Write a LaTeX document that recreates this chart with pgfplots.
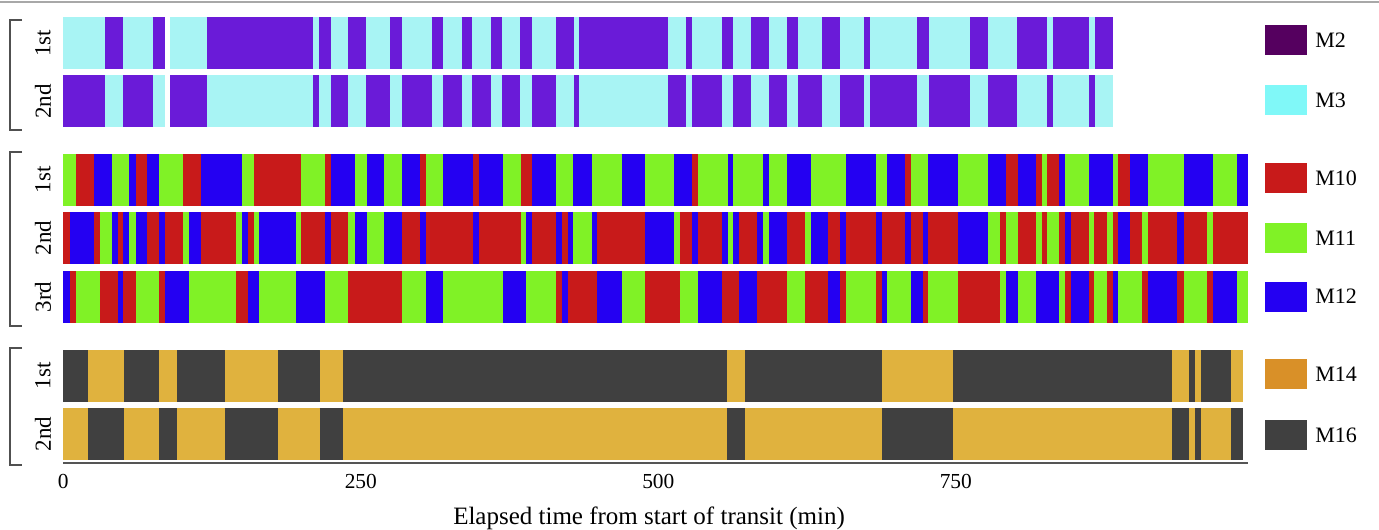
\documentclass[border=0pt]{standalone}
\usepackage{pgfplots}
\pgfplotsset{compat=1.18}
\usepackage{pgfplotstable}
\usepackage{fontspec}
\setmainfont{Liberation Serif}

% bar colours and key colours
\definecolor{barMtwo}{HTML}{6A1BD8}
\definecolor{barMthree}{HTML}{A8F4F4}
\definecolor{keyMtwo}{HTML}{55005F}
\definecolor{keyMthree}{HTML}{80F8F8}
\definecolor{cMten}{HTML}{C81A1A}
\definecolor{cMeleven}{HTML}{80F226}
\definecolor{cMtwelve}{HTML}{2400F2}
\definecolor{barMfourteen}{HTML}{E0B23E}
\definecolor{keyMfourteen}{HTML}{D99028}
\definecolor{cMsixteen}{HTML}{404040}
\definecolor{axisgray}{HTML}{555555}
\definecolor{bracketgray}{HTML}{505050}
\definecolor{topgray}{HTML}{A8A8A8}

% ---- M2 / M3 group: intervals (min) where transit 1 is in M2 (transit 2 is in M3)
\pgfplotstableread{
s e
35.0 50.4
75.1 85.5
120.5 210.1
214.9 224.7
239.5 254.4
274.5 284.4
309.6 319.3
334.8 343.7
359.4 368.9
384.0 394.1
414.0 429.1
433.6 508.4
523.0 528.5
553.2 563.0
577.9 593.0
607.9 617.6
637.8 652.7
672.8 677.9
717.6 727.4
761.9 776.8
801.6 826.9
831.9 862.1
866.9 881.8
}\tblSwapA
% recorded span of the M2 / M3 transits (with a short gap)
\pgfplotstableread{
s e
0 85.5
89.7 881.8
}\tblSpanA

% ---- M10 / M11 / M12 group (M11 is the background of each row)
\pgfplotstableread{
s e
10.7 25.8
61.1 70.6
100.8 115.5
160.2 199.7
219.9 224.7
299.7 304.5
344.5 349.3
384.4 393.6
528.5 533.3
707.5 712.3
792.2 802.0
817.1 822.2
826.9 836.7
886.5 896.4
}\tblOneR
\pgfplotstableread{
s e
25.8 40.7
55.4 61.1
70.6 80.7
115.5 150.4
224.7 244.7
254.9 269.7
284.6 299.7
319.3 344.5
349.3 369.2
393.6 414.0
428.6 444.0
469.2 488.8
513.3 528.5
558.3 563.0
588.2 593.0
607.9 628.3
657.7 682.9
692.4 707.5
726.9 752.1
777.3 792.2
802.0 817.1
836.7 842.0
861.9 881.8
896.4 911.7
941.5 966.3
986.0 995.5
}\tblOneB
\pgfplotstableread{
s e
0 5.6
25.8 30.8
45.7 50.4
70.6 80.7
85.5 100.8
115.5 145.1
155.5 160.2
199.7 219.9
224.7 239.5
284.6 299.7
304.5 344.5
349.3 384.4
393.6 414.0
418.8 423.8
448.5 488.8
518.5 528.5
533.3 553.2
568.0 583.2
607.9 623.2
642.8 652.7
657.7 682.9
687.7 707.5
712.3 722.3
726.9 752.1
787.1 792.2
802.0 817.1
822.2 826.9
836.7 842.0
846.8 861.9
866.4 876.8
881.8 886.5
896.4 906.2
911.7 936.1
941.5 961.3
966.3 995.5
}\tblTwoR
\pgfplotstableread{
s e
5.6 25.8
40.7 45.7
50.4 55.4
61.1 70.6
80.7 85.5
105.6 115.5
150.4 155.5
164.7 195.5
219.9 224.7
244.7 254.9
269.7 284.6
299.7 304.5
344.5 349.3
388.6 393.6
414.0 418.8
423.8 428.6
444.0 448.5
488.8 513.3
528.5 533.3
553.2 558.3
563.0 568.0
583.2 588.2
593.0 607.9
628.3 642.8
652.7 657.7
682.9 687.7
707.5 712.3
722.3 726.9
752.1 777.3
842.0 846.8
886.5 896.4
936.1 941.5
}\tblTwoB
\pgfplotstableread{
s e
5.6 10.7
30.8 45.7
50.4 61.1
80.7 85.5
145.1 155.5
239.5 284.6
414.0 418.8
423.8 448.5
488.8 518.5
553.2 568.0
583.2 607.9
623.2 642.8
652.7 657.7
682.9 687.7
722.3 726.9
752.1 787.1
842.0 846.8
861.9 866.4
876.8 881.8
906.2 911.7
936.1 941.5
961.3 966.3
}\tblThreeR
\pgfplotstableread{
s e
0 5.6
45.7 50.4
85.5 105.6
155.5 164.7
195.5 219.9
304.5 319.3
369.2 388.6
418.8 423.8
448.5 469.2
533.3 553.2
568.0 583.2
642.8 652.7
687.7 692.4
712.3 722.3
792.2 802.0
817.1 836.7
846.8 861.9
881.8 886.5
911.7 936.1
966.3 986.0
}\tblThreeB
\pgfplotstableread{
s e
0 995.5
}\tblSpanB

% ---- M14 / M16 group: intervals where transit 1 is in M14 (transit 2 is in M16)
\pgfplotstableread{
s e
20.7 50.9
80.8 95.6
135.5 180.5
215.3 235.2
558.1 572.8
688.2 747.6
931.3 946.3
951.0 956.1
981.2 991.5
}\tblSwapC
\pgfplotstableread{
s e
0 991.5
}\tblSpanC

% one horizontal block per table row, from s to e
\pgfplotsset{
  seg/.style={only marks, mark=none, mark size=0pt,
    mark options={draw opacity=0, fill opacity=0}, forget plot,
    error bars/.cd, x dir=plus, x explicit, error mark=none,
    error bar style={line width=26pt, line cap=butt, color=#1,
      draw opacity=1}},
}
\newcommand{\segs}[3]{%
  \addplot[seg={#1}] table[x=s, y expr=#2, x error expr=\thisrow{e}-\thisrow{s}] {#3};}

\begin{document}
\begin{tikzpicture}
\begin{axis}[
  x=0.595pt, y=0.5pt,
  xmin=0, xmax=995.5, ymin=66, ymax=512,
  axis x line*=bottom, hide y axis,
  x axis line style={draw=axisgray, line width=1.2pt},
  xtick={0,250,500,750}, major tick length=0pt,
  /pgf/number format/assume math mode=true,
  xticklabel style={font=\fontsize{10.7}{12}\selectfont, anchor=center, yshift=-9pt},
  xlabel={Elapsed time from start of transit (min)},
  xlabel style={font=\fontsize{12.5}{14}\selectfont, anchor=center, at={(axis cs:492.2,11)}},
  clip=false,
]
% M2 / M3
\segs{barMthree}{485.75}{\tblSpanA}
\segs{barMtwo}{485.75}{\tblSwapA}
\segs{barMtwo}{427.5}{\tblSpanA}
\segs{barMthree}{427.5}{\tblSwapA}
% M10 / M11 / M12
\segs{cMeleven}{349}{\tblSpanB}
\segs{cMten}{349}{\tblOneR}
\segs{cMtwelve}{349}{\tblOneB}
\segs{cMeleven}{290.75}{\tblSpanB}
\segs{cMten}{290.75}{\tblTwoR}
\segs{cMtwelve}{290.75}{\tblTwoB}
\segs{cMeleven}{232}{\tblSpanB}
\segs{cMten}{232}{\tblThreeR}
\segs{cMtwelve}{232}{\tblThreeB}
% M14 / M16
\segs{cMsixteen}{153}{\tblSpanC}
\segs{barMfourteen}{153}{\tblSwapC}
\segs{barMfourteen}{95}{\tblSpanC}
\segs{cMsixteen}{95}{\tblSwapC}

% transit labels
\begin{scope}[every node/.style={rotate=90, font=\fontsize{11.5}{13}\selectfont}]
\node at (axis cs:-17.1,485.75) {1st};
\node at (axis cs:-17.1,427.5) {2nd};
\node at (axis cs:-17.1,349) {1st};
\node at (axis cs:-17.1,290.75) {2nd};
\node at (axis cs:-17.1,232) {3rd};
\node at (axis cs:-17.1,153) {1st};
\node at (axis cs:-17.1,95) {2nd};
\end{scope}

% group brackets
\begin{scope}[draw=bracketgray, line width=0.8pt]
\draw (axis cs:-34.7,509) -- (axis cs:-44.8,509) -- (axis cs:-44.8,399) -- (axis cs:-34.7,399);
\draw (axis cs:-34.7,377) -- (axis cs:-44.8,377) -- (axis cs:-44.8,203) -- (axis cs:-34.7,203);
\draw (axis cs:-34.7,181) -- (axis cs:-44.8,181) -- (axis cs:-44.8,64) -- (axis cs:-34.7,64);
\end{scope}

% rule along the top
\draw[topgray, line width=1pt] (axis cs:-53.2,527) -- (axis cs:1105.6,527);

% key
\begin{scope}[every node/.style={anchor=west, inner sep=0pt, font=\fontsize{11}{13}\selectfont}]
\fill[keyMtwo] (axis cs:1009.8,474) rectangle (axis cs:1045.1,504);
\node at (axis cs:1051.8,489) {M2};
\fill[keyMthree] (axis cs:1009.8,414) rectangle (axis cs:1045.1,444);
\node at (axis cs:1051.8,429) {M3};
\fill[cMten] (axis cs:1009.8,336) rectangle (axis cs:1045.1,366);
\node at (axis cs:1051.8,351) {M10};
\fill[cMeleven] (axis cs:1009.8,276) rectangle (axis cs:1045.1,306);
\node at (axis cs:1051.8,291) {M11};
\fill[cMtwelve] (axis cs:1009.8,217.3) rectangle (axis cs:1045.1,247.3);
\node at (axis cs:1051.8,232.3) {M12};
\fill[keyMfourteen] (axis cs:1009.8,140) rectangle (axis cs:1045.1,170);
\node at (axis cs:1051.8,155) {M14};
\fill[cMsixteen] (axis cs:1009.8,79) rectangle (axis cs:1045.1,109);
\node at (axis cs:1051.8,94) {M16};
\end{scope}

\coordinate (BL) at (axis cs:-53.2,0);
\coordinate (TR) at (axis cs:1105.6,529);
\end{axis}
\pgfresetboundingbox
\path[use as bounding box] (BL) rectangle (TR);
\end{tikzpicture}
\end{document}
